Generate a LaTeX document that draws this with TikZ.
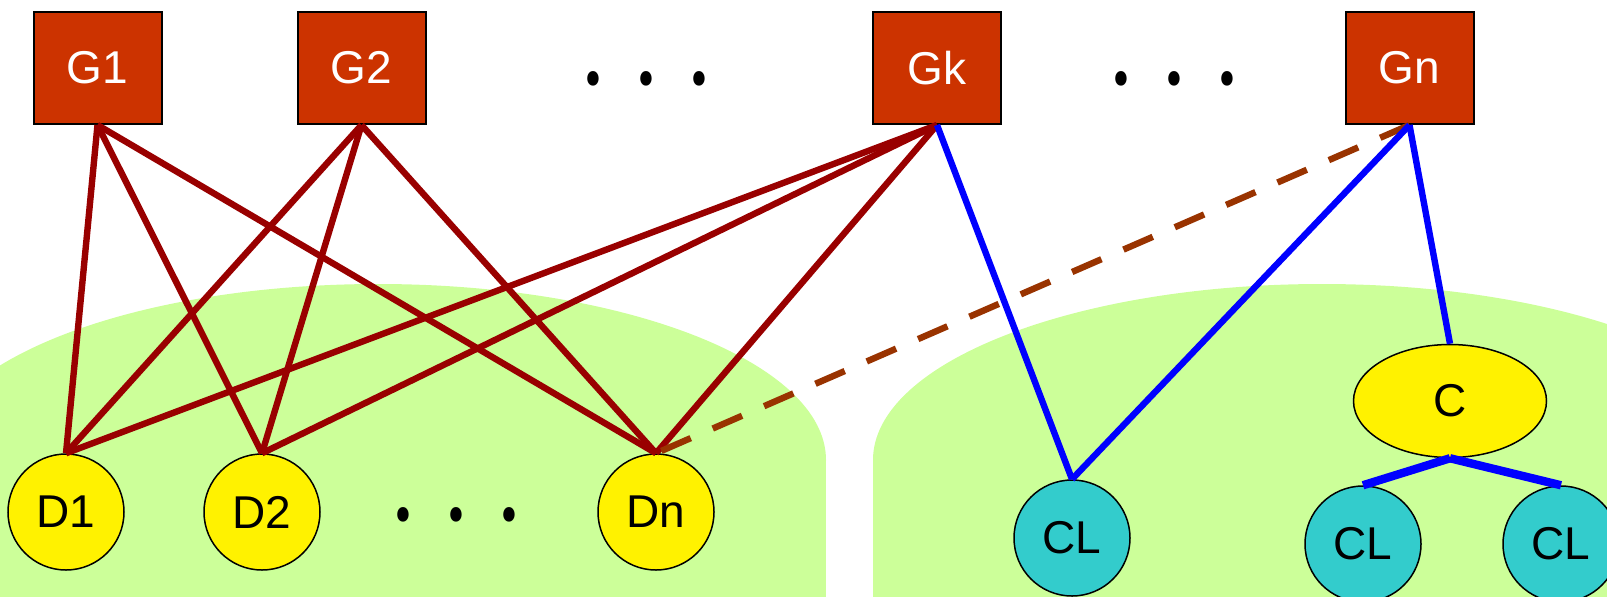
\documentclass[tikz,border=0pt]{standalone}
\usepackage{fontspec}
\setmainfont{Liberation Sans}
\newfontfamily\dotfont{Poppins}
\usepackage{graphicx}
\usetikzlibrary{shapes.geometric}
\definecolor{gbox}{HTML}{CC3300}
\definecolor{dred}{HTML}{990000}
\definecolor{dbrown}{HTML}{993300}
\definecolor{lgreen}{HTML}{CCFF99}
\definecolor{cyanfill}{HTML}{33CCCC}
\definecolor{pblue}{HTML}{0000FF}
\newcommand{\onedot}{\makebox[26.5pt]{\scalebox{1}[1.4]{.}}}
\newcommand{\dotrow}{\onedot\onedot\onedot}
\begin{document}
\begin{tikzpicture}[x=0.5pt,y=-0.5pt,
 gnode/.style={rectangle, draw=black, line width=1pt, fill=gbox, text=white, minimum width=64pt, minimum height=56pt, inner sep=0pt, font=\fontsize{23}{23}\selectfont},
 dnode/.style={circle, draw=black, line width=0.75pt, fill=yellow, minimum size=58pt, inner sep=0pt, font=\fontsize{23}{23}\selectfont},
 clnode/.style={dnode, fill=cyanfill},
 cnode/.style={ellipse, draw=black, line width=0.75pt, fill=yellow, minimum width=96.5pt, minimum height=56.5pt, inner sep=0pt, font=\fontsize{23}{23}\selectfont},
 dotsnode/.style={inner sep=0pt, anchor=base, font=\dotfont\fontsize{28}{28}\selectfont\bfseries},
 redge/.style={draw=dred, line width=3.2pt},
 bedge/.style={draw=pblue, line width=3.2pt},
 bthick/.style={draw=pblue, line width=4.2pt},
 dedge/.style={draw=dbrown, line width=3.2pt, dash pattern=on 16pt off 12pt}]
\useasboundingbox (0,0) rectangle (1607,596);
% green regions
\fill[lgreen] (378,460) ellipse [x radius=224pt, y radius=88pt];
\fill[lgreen] (-4,460) rectangle (826,600);
\fill[lgreen] (1322,460) ellipse [x radius=224.5pt, y radius=88pt];
\fill[lgreen] (873,460) rectangle (1612,600);
% top nodes
\node[gnode] (G1) at (97.5,68) {G1};
\node[gnode] (G2) at (361.5,68) {G2};
\node[gnode] (Gk) at (937,68) {Gk};
\node[gnode] (Gn) at (1409.5,68) {Gn};
\node[dotsnode] (dotsA) at (646,85) {\dotrow};
\node[dotsnode] (dotsB) at (1174,85) {\dotrow};
% bottom nodes
\node[dnode] (D1) at (66,512) {D1};
\node[dnode] (D2) at (262,512) {D2};
\node[dnode] (Dn) at (656,512) {Dn};
\node[dotsnode] (dotsC) at (456,521) {\dotrow};
\node[cnode] (C) at (1450,401) {C};
\node[clnode] (CL1) at (1072,538) {CL};
\node[clnode] (CL2) at (1363,544) {CL};
\node[clnode] (CL3) at (1561,544) {CL};
% red edges
\foreach \g in {G1,G2,Gk}{
  \foreach \d in {D1,D2,Dn}{
    \draw[redge] (\g.south) -- (\d.north);
  }
}
% dashed
\draw[dedge] (Gn.south) -- (Dn.north);
% blue edges
\draw[bedge] (Gk.south) -- (CL1.north);
\draw[bedge] (Gn.south) -- (CL1.north);
\draw[bedge] (Gn.south) -- (C.north);
\draw[bthick] (C.south) -- (CL2.north);
\draw[bthick] (C.south) -- (CL3.north);
\end{tikzpicture}
\end{document}
